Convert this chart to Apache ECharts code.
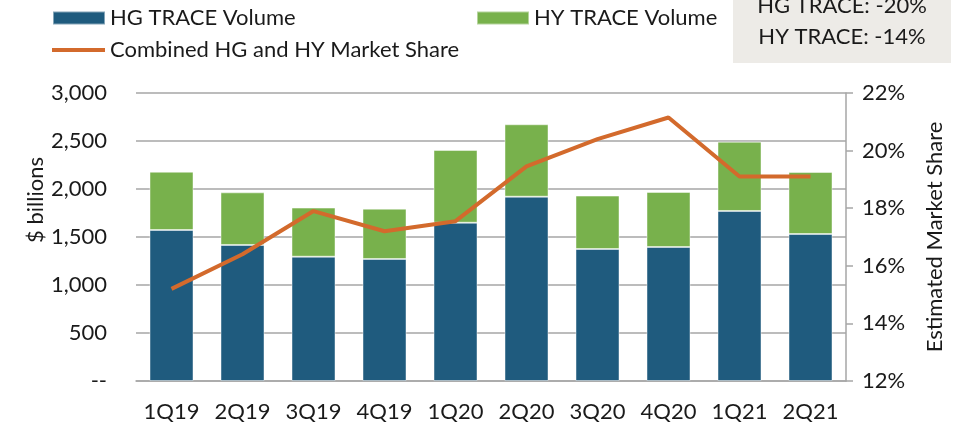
<!DOCTYPE html>
<html>
<head>
<meta charset="utf-8">
<script src="https://cdn.jsdelivr.net/npm/echarts@6/dist/echarts.min.js"></script>
<style>
html,body{margin:0;padding:0;background:#fff;}
#chart{width:961px;height:425px;}
</style>
</head>
<body>
<div id="chart"></div>
<script>
const categories = ['1Q19','2Q19','3Q19','4Q19','1Q20','2Q20','3Q20','4Q20','1Q21','2Q21'];
const hgVolume = [1573, 1417, 1295, 1271, 1649, 1920, 1375, 1396, 1771, 1531];
const hyVolume = [607, 548, 511, 524, 757, 754, 556, 573, 722, 646];
const marketShare = [15.2, 16.4, 17.9, 17.2, 17.55, 19.45, 20.4, 21.15, 19.1, 19.1];
const leftTicks = { min: 0, max: 3000, interval: 500 };
const rightTicks = { min: 12, max: 22, interval: 2 };
const boxLines = ['HG TRACE: -20%', 'HY TRACE: -14%'];

const FONT = 'Lato';
const FS = 22;
const TXT = '#1a1a1a';
const GRID = '#a6a6a6';

const chart = echarts.init(document.getElementById('chart'), null, {renderer: 'canvas'});
chart.setOption({
  animation: false,
  backgroundColor: '#ffffff',
  textStyle: { fontFamily: FONT },
  legend: [
    { data: ['HG TRACE Volume'], left: 52, top: 7, padding: 0, icon: 'rect', itemWidth: 52, itemHeight: 13, itemGap: 6,
      textStyle: { fontFamily: FONT, fontSize: FS, color: TXT } },
    { data: ['HY TRACE Volume'], left: 476, top: 7, padding: 0, icon: 'rect', itemWidth: 52, itemHeight: 13, itemGap: 6,
      textStyle: { fontFamily: FONT, fontSize: FS, color: TXT } },
    { data: ['Combined HG and HY Market Share'], left: 52, top: 39, padding: 0, icon: 'rect', itemWidth: 53, itemHeight: 4, itemGap: 6,
      textStyle: { fontFamily: FONT, fontSize: FS, color: TXT } }
  ],
  grid: { left: 136, right: 115, top: 93, bottom: 44, containLabel: false },
  xAxis: {
    type: 'category',
    data: categories,
    axisLine: { lineStyle: { color: GRID, width: 1.5 } },
    axisTick: { show: false },
    axisLabel: { fontFamily: FONT, fontSize: FS, color: TXT, margin: 20, interval: 0, hideOverlap: false }
  },
  yAxis: [
    { type: 'value', min: leftTicks.min, max: leftTicks.max, interval: leftTicks.interval,
      axisLine: { show: false }, axisTick: { show: false },
      splitLine: { lineStyle: { color: GRID, width: 1.5 } },
      axisLabel: { fontFamily: FONT, fontSize: FS, color: TXT, margin: 29,
        formatter: v => v === 0 ? '--' : v.toLocaleString('en-US') } },
    { type: 'value', position: 'right', min: rightTicks.min, max: rightTicks.max, interval: rightTicks.interval,
      name: 'Estimated Market Share', nameLocation: 'middle', nameRotate: 90, nameGap: 78,
      nameTextStyle: { fontFamily: FONT, fontSize: FS, color: TXT },
      axisLine: { show: true, lineStyle: { color: GRID, width: 1.5 } },
      axisTick: { show: true, inside: false, length: 7, lineStyle: { color: GRID, width: 1.5 } },
      splitLine: { show: false },
      axisLabel: { fontFamily: FONT, fontSize: FS, color: TXT, margin: 16, formatter: '{value}%' } }
  ],
  series: [
    { name: 'HG TRACE Volume', type: 'bar', stack: 'vol', data: hgVolume, barWidth: 44,
      itemStyle: { color: '#1f5b7e', borderColor: 'rgba(255,255,255,0.45)', borderWidth: 1 } },
    { name: 'HY TRACE Volume', type: 'bar', stack: 'vol', data: hyVolume, barWidth: 44,
      itemStyle: { color: '#78b14c', borderColor: 'rgba(255,255,255,0.45)', borderWidth: 1 } },
    { name: 'Combined HG and HY Market Share', type: 'line', yAxisIndex: 1, data: marketShare,
      symbol: 'none', lineStyle: { color: '#d36a2c', width: 4 }, itemStyle: { color: '#d36a2c' } }
  ],
  graphic: [
    { type: 'rect', shape: { x: 733, y: -10, width: 218, height: 73 }, style: { fill: '#edebe7' }, silent: true },
    { type: 'text', x: 842, y: 6, style: { text: boxLines[0], fontFamily: FONT, fontSize: FS, fill: TXT, textAlign: 'center', textVerticalAlign: 'middle' } },
    { type: 'text', x: 842, y: 37, style: { text: boxLines[1], fontFamily: FONT, fontSize: FS, fill: TXT, textAlign: 'center', textVerticalAlign: 'middle' } },
    { type: 'text', x: 36, y: 200, rotation: Math.PI / 2, style: { text: '$ billions', fontFamily: FONT, fontSize: FS, fill: TXT, textAlign: 'center', textVerticalAlign: 'middle' } }
  ]
});
</script>
</body>
</html>
